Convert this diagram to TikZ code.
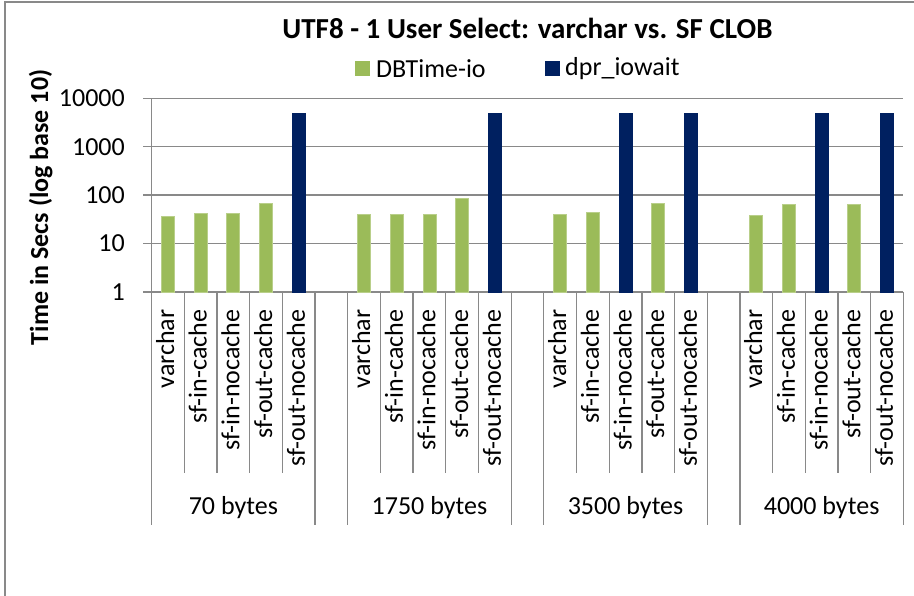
\documentclass[tikz,border=0pt]{standalone}
\usepackage{fontspec}
\setmainfont{Carlito}
\definecolor{grn}{HTML}{9BBB59}
\definecolor{grnedge}{HTML}{B9CF8A}
\definecolor{nvy}{HTML}{002060}
\definecolor{gridc}{HTML}{898989}
\tikzset{
  gline/.style={draw=gridc, line width=1.3pt},
  ticklab/.style={inner sep=0pt, font=\fontsize{26}{30}\selectfont},
  catlab/.style={inner sep=0pt, rotate=90, anchor=east, text height=18pt, text depth=6pt, font=\fontsize{26}{30}\selectfont},
  grplab/.style={inner sep=0pt, anchor=base, font=\fontsize{26}{30}\selectfont},
  legsq/.style={inner sep=0pt, minimum size=15pt},
}
\begin{document}
\begin{tikzpicture}[x=1pt,y=-1pt]
\useasboundingbox (0,0) rectangle (914,596);
\fill[white] (0,0) rectangle (914,596);
% frame
\draw[gline] (5,600) -- (5,2) -- (920,2);
% title and legend
\node[inner sep=0pt, anchor=base, font=\bfseries\fontsize{29}{34}\selectfont] (title) at (527.5,38.3) {UTF8 - 1 User Select: varchar vs. SF CLOB};
\node[legsq, fill=grn, anchor=north west] (lg1) at (355,61) {};
\node[inner sep=0pt, anchor=west, ticklab] (lt1) at (376,68.5) {DBTime-io};
\node[legsq, fill=nvy, anchor=north west] (lg2) at (545,61) {};
\node[inner sep=0pt, anchor=west, ticklab] (lt2) at (565,68.5) {dpr\_iowait};
% axis title
\node[inner sep=0pt, rotate=90, anchor=base east, font=\bfseries\fontsize{26}{30}\selectfont] (ytitle) at (48,69.5) {Time in Secs (log base 10)};
% gridlines and y labels
\foreach \k/\t in {0/1,1/10,2/100,3/1000,4/10000}{
  \pgfmathsetmacro{\yy}{292-48.43*\k}
  \draw[gline] (143,\yy) -- (903.3,\yy);
  \node[ticklab, anchor=east] (yl\k) at (125,\yy) {\t};
}
% bars
\foreach \g/\i/\v/\c/\e in {
 0/0/36/grn/grnedge,0/1/41/grn/grnedge,0/2/42/grn/grnedge,0/3/66/grn/grnedge,0/4/4900/nvy/nvy,
 1/0/40/grn/grnedge,1/1/40/grn/grnedge,1/2/40/grn/grnedge,1/3/87/grn/grnedge,1/4/4900/nvy/nvy,
 2/0/40/grn/grnedge,2/1/45/grn/grnedge,2/2/4900/nvy/nvy,2/3/66/grn/grnedge,2/4/4900/nvy/nvy,
 3/0/39/grn/grnedge,3/1/65/grn/grnedge,3/2/4900/nvy/nvy,3/3/65/grn/grnedge,3/4/4900/nvy/nvy}{
  \pgfmathsetmacro{\xc}{151.7+32.678*(6*\g+\i+0.5)}
  \pgfmathsetmacro{\yt}{292-48.43*ln(\v)/ln(10)}
  \filldraw[fill=\c, draw=\e, line width=0.8pt] (\xc-6.5,292) rectangle (\xc+6.5,\yt);
}
% vertical separators
\draw[gline] (151.7,98.28) -- (151.7,292);
\foreach \j in {0,...,23}{
  \pgfmathsetmacro{\xx}{151.7+32.678*\j}
  \pgfmathtruncatemacro{\m}{mod(\j,6)}
  \ifnum\m=0 \draw[gline] (\xx,292) -- (\xx,525);
  \else\ifnum\m=5 \draw[gline] (\xx,292) -- (\xx,525);
  \else \draw[gline] (\xx,292) -- (\xx,473);
  \fi\fi
}
% category labels
\foreach \g in {0,...,3}{
  \foreach \t [count=\i from 0] in {varchar,sf-in-cache,sf-in-nocache,sf-out-cache,sf-out-nocache}{
    \pgfmathsetmacro{\xc}{151.7+32.678*(6*\g+\i+0.5)}
    \node[catlab] (c\g-\i) at (\xc,309.5) {\t};
  }
}
% group labels
\foreach \t [count=\g from 0] in {70 bytes,1750 bytes,3500 bytes,4000 bytes}{
  \pgfmathsetmacro{\xc}{151.7+32.678*(6*\g+2.5)}
  \node[grplab] (g\g) at (\xc,514) {\t};
}
\end{tikzpicture}
\end{document}
